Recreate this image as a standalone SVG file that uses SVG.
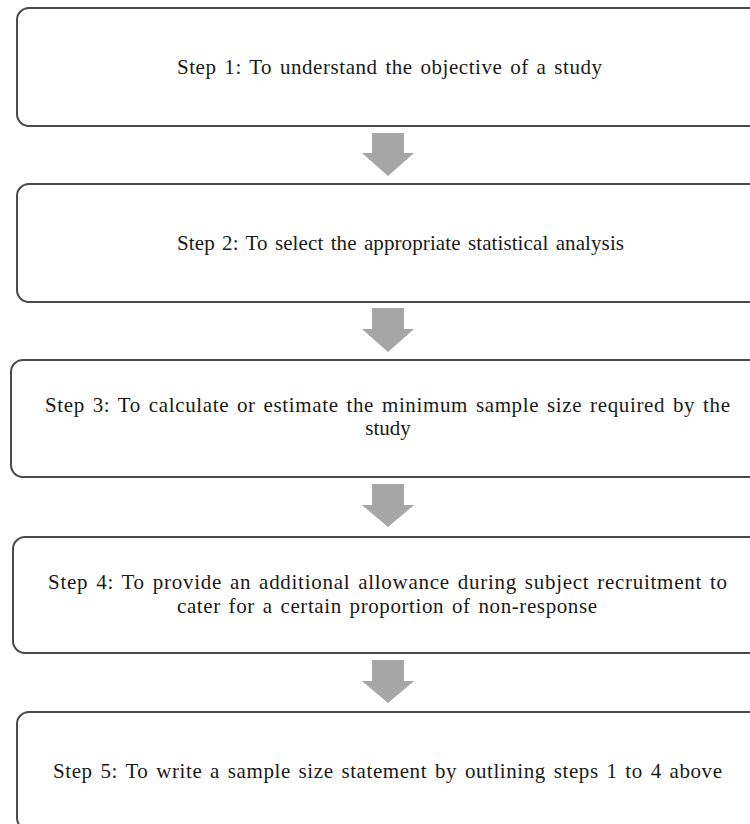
<svg xmlns="http://www.w3.org/2000/svg" width="750" height="824" viewBox="0 0 750 824">
<style>
.box{fill:#ffffff;stroke:#4a4a4a;stroke-width:2}
.lbl{font-family:"Liberation Serif","Times New Roman",serif;font-size:21px;fill:#1a1a1a;word-spacing:2px}
.arr{fill:#a6a6a6}
</style>
<rect width="750" height="824" fill="#ffffff"/>
<g id="connectors">
<polygon class="arr" points="372,133 404,133 404,153 414,153 388,176 362,153 372,153"/>
<polygon class="arr" points="372,308 404,308 404,329 414,329 388,352 362,329 372,329"/>
<polygon class="arr" points="372,484 404,484 404,505 414,505 388,527 362,505 372,505"/>
<polygon class="arr" points="372,660 404,660 404,681 414,681 388,703 362,681 372,681"/>
</g>
<g id="step1">
<rect class="box" x="17" y="8" width="745" height="118" rx="12"/>
<text class="lbl" x="177" y="74" textLength="425" lengthAdjust="spacing">Step 1: To understand the objective of a study</text>
</g>
<g id="step2">
<rect class="box" x="17" y="184" width="745" height="118" rx="12"/>
<text class="lbl" x="177" y="250" textLength="447" lengthAdjust="spacing">Step 2: To select the appropriate statistical analysis</text>
</g>
<g id="step3">
<rect class="box" x="11" y="360" width="755" height="117" rx="12"/>
<text class="lbl" x="45" y="412" textLength="685" lengthAdjust="spacing">Step 3: To calculate or estimate the minimum sample size required by the</text>
<text class="lbl" x="388" y="435" text-anchor="middle">study</text>
</g>
<g id="step4">
<rect class="box" x="13" y="537" width="752" height="116" rx="12"/>
<text class="lbl" x="48" y="589" textLength="679" lengthAdjust="spacing">Step 4: To provide an additional allowance during subject recruitment to</text>
<text class="lbl" x="177" y="613" textLength="420" lengthAdjust="spacing">cater for a certain proportion of non-response</text>
</g>
<g id="step5">
<rect class="box" x="17" y="712" width="745" height="118" rx="12"/>
<text class="lbl" x="53" y="778" textLength="669" lengthAdjust="spacing">Step 5: To write a sample size statement by outlining steps 1 to 4 above</text>
</g>
</svg>
